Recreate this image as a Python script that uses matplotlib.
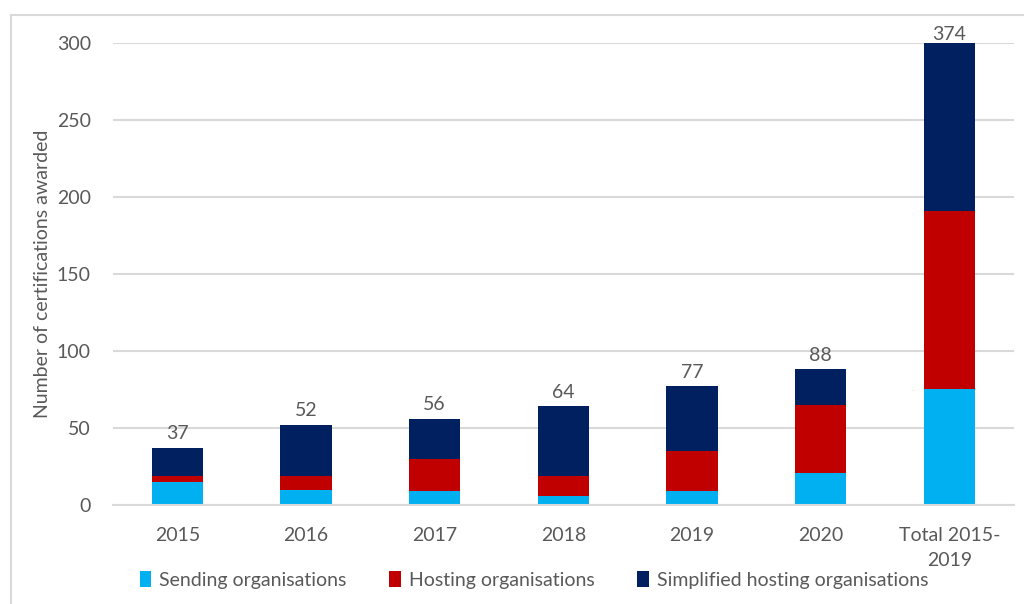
import numpy as np
import matplotlib
matplotlib.use("Agg")
import matplotlib.pyplot as plt
from matplotlib.patches import Rectangle

# Datos
categorias = ["2015", "2016", "2017", "2018", "2019", "2020", "Total 2015-\n2019"]
sending = [15, 10, 9, 6, 9, 21, 75]
hosting = [4, 9, 21, 13, 26, 44, 116]
simplified = [18, 33, 26, 45, 42, 23, 183]
totales = [37, 52, 56, 64, 77, 88, 374]

plt.rcParams["font.family"] = ["Lato", "DejaVu Sans"]
gris = "#595959"

fig = plt.figure(figsize=(10.24, 6.04), dpi=100)
ax = fig.add_axes([0.1104, 0.164, 0.8796, 0.7648])

# Marco del gráfico
fig.patches.append(Rectangle((11 / 1024, -0.1), 1.2, 1.1 - 15 / 604,
                             transform=fig.transFigure, fill=False,
                             edgecolor="#D9D9D9", linewidth=1.5))

x = np.arange(len(categorias))
ancho = 0.4
s = np.array(sending)
h = np.array(hosting)
si = np.array(simplified)

ax.bar(x, s, ancho, color="#00B0F0", label="Sending organisations")
ax.bar(x, h, ancho, bottom=s, color="#C00000", label="Hosting organisations")
ax.bar(x, si, ancho, bottom=s + h, color="#002060",
       label="Simplified hosting organisations")

ax.set_ylim(0, 300)
ax.set_xlim(-0.5, len(categorias) - 0.5)

for xi, t in zip(x, totales):
    if t > 300:
        ax.annotate(str(t), (xi, 300), xytext=(0, 0), textcoords="offset points",
                    ha="center", va="bottom", fontsize=14, color=gris,
                    annotation_clip=False)
    else:
        ax.annotate(str(t), (xi, t), xytext=(0, 4), textcoords="offset points",
                    ha="center", va="bottom", fontsize=14, color=gris)

ax.set_yticks(np.arange(0, 301, 50))
ax.set_xticks(x)
ax.set_xticklabels(categorias, linespacing=1.55)
ax.tick_params(axis="both", length=0, labelsize=14, labelcolor=gris)
ax.tick_params(axis="y", pad=16)
ax.tick_params(axis="x", pad=16)
ax.grid(axis="y", color="#D9D9D9", linewidth=1.5)
ax.set_axisbelow(True)
for lado in ["top", "right", "left"]:
    ax.spines[lado].set_visible(False)
ax.spines["bottom"].set_color("#D9D9D9")
ax.spines["bottom"].set_linewidth(1.5)

ax.set_ylabel("Number of certifications awarded", fontsize=14, color=gris, labelpad=4)

ax.legend(loc="upper left", bbox_to_anchor=(0.01, -0.105), ncol=3, frameon=False,
          fontsize=14, labelcolor=gris, handlelength=0.6, handleheight=0.9,
          handletextpad=0.4, columnspacing=2.2)

fig.savefig("out.png", dpi=100)
